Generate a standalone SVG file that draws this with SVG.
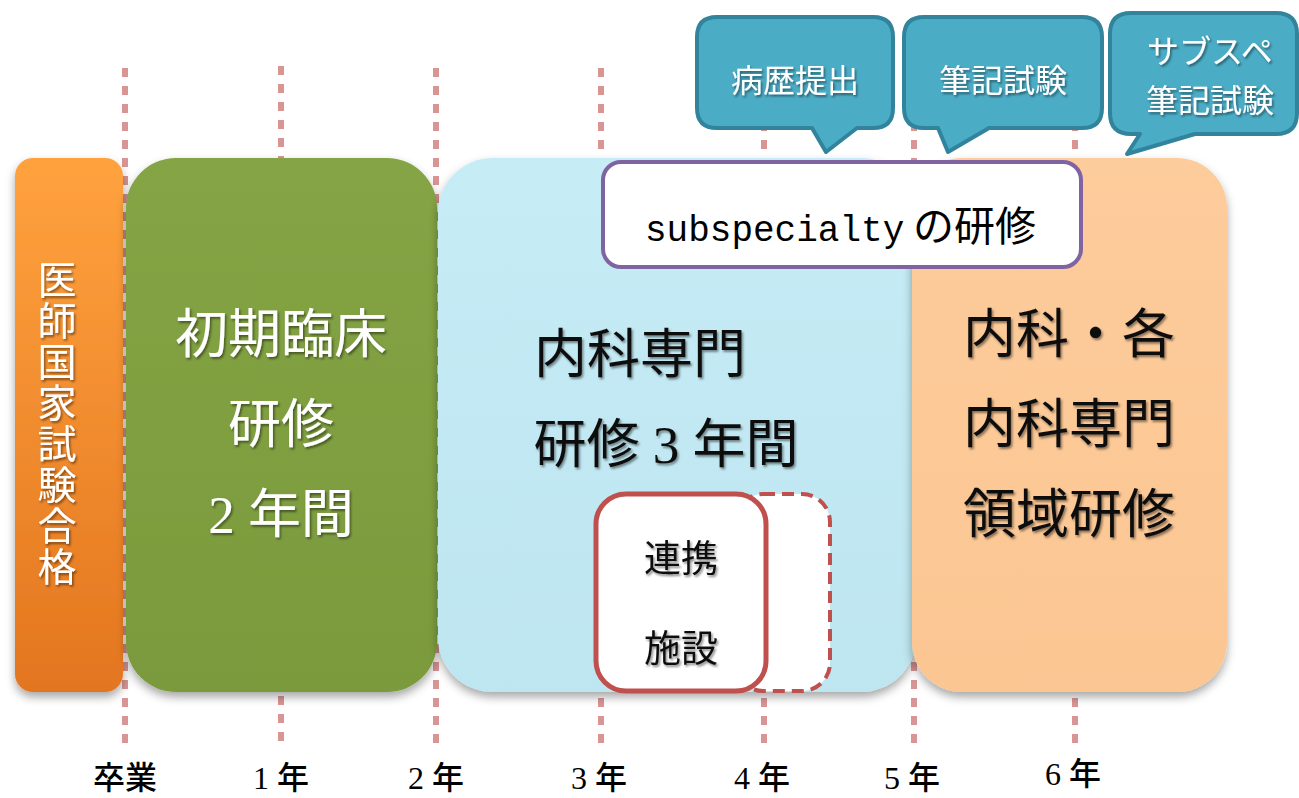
<svg xmlns="http://www.w3.org/2000/svg" width="1299" height="798" viewBox="0 0 1299 798">
<defs>
<style>
.grid{stroke:#D99594;stroke-width:6;stroke-dasharray:9 9;fill:none}
.jp{font-family:"Liberation Serif","Noto Sans CJK JP",serif;text-anchor:middle}
.big{font-size:53px}
.wt{fill:#ffffff}
.bk{fill:#111111}
.call{fill:#4BACC6;stroke:#31849B;stroke-width:4;stroke-linejoin:round}
.callt{font-size:32px;fill:#ffffff}
.yr{font-size:32px;fill:#000000;font-weight:500}
</style>
<linearGradient id="gOrange" x1="0" y1="0" x2="0" y2="1">
<stop offset="0" stop-color="#FFA23E"/>
<stop offset="1" stop-color="#E3761F"/>
</linearGradient>
<linearGradient id="gGreen" x1="0" y1="0" x2="0" y2="1">
<stop offset="0" stop-color="#84A445"/>
<stop offset="1" stop-color="#7A9A3C"/>
</linearGradient>
<linearGradient id="gBlue" x1="0" y1="0" x2="0" y2="1">
<stop offset="0" stop-color="#C6ECF6"/>
<stop offset="1" stop-color="#BEE6F0"/>
</linearGradient>
<linearGradient id="gPeach" x1="0" y1="0" x2="0" y2="1">
<stop offset="0" stop-color="#FDCC9C"/>
<stop offset="1" stop-color="#FBC692"/>
</linearGradient>
<filter id="sh" x="-10%" y="-10%" width="120%" height="125%">
<feDropShadow dx="0" dy="5" stdDeviation="5" flood-color="#000" flood-opacity="0.35"/>
</filter>
<filter id="tsh" x="-10%" y="-10%" width="120%" height="130%">
<feDropShadow dx="1.5" dy="2" stdDeviation="1.2" flood-color="#000" flood-opacity="0.45"/>
</filter>
</defs>

<g id="connectors">
<line class="grid" x1="125" y1="68" x2="125" y2="750"/>
<line class="grid" x1="281" y1="66" x2="281" y2="748"/>
<line class="grid" x1="436" y1="68" x2="436" y2="750"/>
<line class="grid" x1="601" y1="68" x2="601" y2="750"/>
<line class="grid" x1="764" y1="68" x2="764" y2="750"/>
<line class="grid" x1="914" y1="68" x2="914" y2="748"/>
<line class="grid" x1="1075" y1="68" x2="1075" y2="752"/>
</g>

<g id="orange-bar">
<rect x="15" y="158" width="108" height="534" rx="18" fill="url(#gOrange)" filter="url(#sh)"/>
<text class="jp wt" font-size="39" filter="url(#tsh)"><tspan x="57" y="294">医</tspan><tspan x="57" y="335">師</tspan><tspan x="57" y="376">国</tspan><tspan x="57" y="417">家</tspan><tspan x="57" y="458">試</tspan><tspan x="57" y="499">験</tspan><tspan x="57" y="540">合</tspan><tspan x="57" y="581">格</tspan></text>
</g>

<g id="green-box">
<rect x="126" y="158" width="311" height="534" rx="50" fill="url(#gGreen)" filter="url(#sh)"/>
<text class="jp big wt" filter="url(#tsh)"><tspan x="281" y="353">初期臨床</tspan><tspan x="281" y="443">研修</tspan><tspan x="281" y="533">2 年間</tspan></text>
</g>

<g id="blue-box">
<rect x="438" y="158" width="478" height="534" rx="55" fill="url(#gBlue)" filter="url(#sh)"/>
<text class="jp big bk" filter="url(#tsh)"><tspan x="640" y="373">内科専門</tspan><tspan x="666" y="463">研修 3 年間</tspan></text>
</g>

<g id="peach-box">
<rect x="912" y="158" width="315" height="534" rx="50" fill="url(#gPeach)" filter="url(#sh)"/>
<text class="jp big bk" filter="url(#tsh)"><tspan x="1069" y="353">内科・各</tspan><tspan x="1069" y="443">内科専門</tspan><tspan x="1069" y="533">領域研修</tspan></text>
</g>

<g id="subspecialty">
<rect x="603" y="162" width="478" height="105" rx="18" fill="#ffffff" stroke="#8064A2" stroke-width="4"/>
<text y="241" fill="#000" font-family="'Liberation Mono','Noto Sans CJK JP',monospace"><tspan x="645" font-size="36">subspecialty</tspan><tspan x="913" font-size="41" font-family="'Noto Sans CJK JP',sans-serif">の研修</tspan></text>
</g>

<g id="renkei-dashed">
<rect x="735" y="494" width="95" height="197" rx="28" fill="#ffffff" stroke="#C0504D" stroke-width="4" stroke-dasharray="12 7"/>
</g>

<g id="renkei">
<rect x="596" y="494" width="170" height="197" rx="30" fill="#ffffff" stroke="#C0504D" stroke-width="5"/>
<text class="jp bk" font-size="37" filter="url(#tsh)"><tspan x="681" y="572">連携</tspan><tspan x="681" y="662">施設</tspan></text>
</g>

<g id="callout-byoreki">
<path class="call" d="M717,17 H873 Q893,17 893,37 V108 Q893,128 873,128 H857 L826,152 L812,128 H717 Q697,128 697,108 V37 Q697,17 717,17 Z"/>
<text class="jp callt" x="795" y="92" filter="url(#tsh)">病歴提出</text>
</g>

<g id="callout-hikki">
<path class="call" d="M924,17 H1082 Q1102,17 1102,37 V108 Q1102,128 1082,128 H989 L948,152 L938,128 H924 Q904,128 904,108 V37 Q904,17 924,17 Z"/>
<text class="jp callt" x="1003" y="92" filter="url(#tsh)">筆記試験</text>
</g>

<g id="callout-subspe">
<path class="call" d="M1131,13 H1276 Q1297,13 1297,34 V113 Q1297,134 1276,134 H1195 L1127,154 L1140,134 H1131 Q1110,134 1110,113 V34 Q1110,13 1131,13 Z"/>
<text class="jp callt" filter="url(#tsh)"><tspan x="1210" y="63">サブスペ</tspan><tspan x="1210" y="112">筆記試験</tspan></text>
</g>

<g id="year-labels">
<text class="jp yr" x="125" y="789">卒業</text>
<text class="jp yr" x="281" y="789">1 年</text>
<text class="jp yr" x="436" y="789">2 年</text>
<text class="jp yr" x="599" y="789">3 年</text>
<text class="jp yr" x="762" y="789">4 年</text>
<text class="jp yr" x="912" y="789">5 年</text>
<text class="jp yr" x="1073" y="785">6 年</text>
</g>
</svg>
